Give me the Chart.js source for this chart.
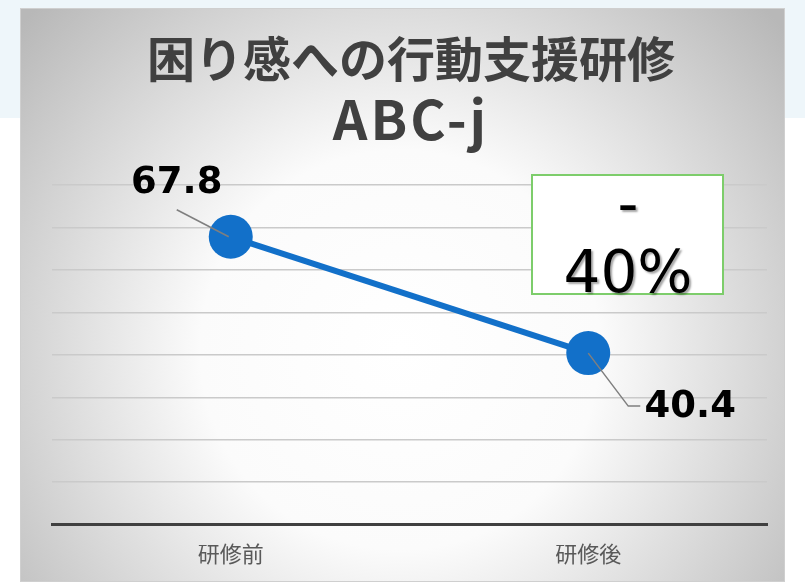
<!DOCTYPE html>
<html lang="ja">
<head>
<meta charset="utf-8">
<script src="https://cdn.jsdelivr.net/npm/chart.js@4.4.1/dist/chart.umd.min.js"></script>
<style>
  html, body { margin: 0; padding: 0; }
  body { width: 805px; height: 585px; position: relative; overflow: hidden;
         background: linear-gradient(#eef6fa 0, #eef6fa 118px, #ffffff 118px); }
  #wrap { position: absolute; left: 0; top: 0; width: 805px; height: 585px; }
</style>
</head>
<body>
<div id="wrap"><canvas id="c" width="805" height="585"></canvas></div>
<script>
// Survey scores before / after the training
const categories = ['研修前', '研修後'];
const scores = [67.8, 40.4];
const titleLines = ['困り感への行動支援研修', 'ABC-j'];
const yMin = 0, yMax = 80, yStep = 10;

// percentage change shown in the callout box
const change = Math.round((scores[1] - scores[0]) / scores[0] * 100);
const changeText = ['-', Math.abs(change) + '%'];

const panel = { x: 20, y: 8, w: 765, h: 574 };

const panelBackground = {
  id: 'panelBackground',
  beforeDraw(chart) {
    const ctx = chart.ctx;
    ctx.save();
    const g = ctx.createRadialGradient(400, 350, 0, 400, 350, 500);
    g.addColorStop(0, '#ffffff');
    g.addColorStop(0.4, '#fbfbfb');
    g.addColorStop(1, '#b8b8b8');
    ctx.fillStyle = g;
    ctx.fillRect(panel.x, panel.y, panel.w, panel.h);
    ctx.strokeStyle = '#cfcfcf';
    ctx.lineWidth = 1;
    ctx.strokeRect(panel.x + 0.5, panel.y + 0.5, panel.w - 1, panel.h - 1);
    // title
    ctx.fillStyle = '#404040';
    ctx.textAlign = 'center';
    ctx.textBaseline = 'middle';
    ctx.font = 'bold 48px "Noto Sans CJK JP"';
    ctx.fillText(titleLines[0], 411, 59);
    ctx.textBaseline = 'alphabetic';
    ctx.font = 'bold 54px "Noto Sans CJK JP"';
    ctx.letterSpacing = '3px';
    ctx.fillText(titleLines[1], 411, 140);
    ctx.restore();
  }
};

const valueLabels = {
  id: 'valueLabels',
  afterDatasetsDraw(chart) {
    const ctx = chart.ctx;
    const pts = chart.getDatasetMeta(0).data;
    ctx.save();
    // leader lines
    ctx.strokeStyle = '#7f7f7f';
    ctx.lineWidth = 1.5;
    ctx.beginPath();
    ctx.moveTo(pts[0].x - 54, pts[0].y - 27);
    ctx.lineTo(pts[0].x - 2, pts[0].y);
    ctx.stroke();
    ctx.beginPath();
    ctx.moveTo(pts[1].x, pts[1].y);
    ctx.lineTo(pts[1].x + 40, pts[1].y + 53);
    ctx.lineTo(pts[1].x + 52, pts[1].y + 53);
    ctx.stroke();
    // values
    ctx.fillStyle = '#000000';
    ctx.textAlign = 'center';
    ctx.textBaseline = 'middle';
    ctx.font = 'bold 37px "DejaVu Sans"';
    ctx.fillText(scores[0].toFixed(1), pts[0].x - 54, pts[0].y - 53);
    ctx.fillText(scores[1].toFixed(1), pts[1].x + 102, pts[1].y + 54);

    // callout box with the percentage change
    const bx = 532, by = 175, bw = 191, bh = 119;
    ctx.fillStyle = '#ffffff';
    ctx.fillRect(bx, by, bw, bh);
    ctx.strokeStyle = '#7dcd6b';
    ctx.lineWidth = 2;
    ctx.strokeRect(bx, by, bw, bh);
    ctx.shadowColor = 'rgba(0,0,0,0.35)';
    ctx.shadowOffsetX = 2;
    ctx.shadowOffsetY = 2;
    ctx.shadowBlur = 2;
    ctx.fillStyle = '#000000';
    ctx.textBaseline = 'alphabetic';
    ctx.font = '58px "DejaVu Sans"';
    ctx.fillText(changeText[0], 628, 224);
    ctx.fillText(changeText[1], 628, 292);
    ctx.restore();
  }
};

new Chart(document.getElementById('c'), {
  type: 'line',
  data: {
    labels: categories,
    datasets: [{
      data: scores,
      borderColor: '#1270c9',
      backgroundColor: '#1270c9',
      borderWidth: 6,
      pointRadius: 22,
      pointBackgroundColor: '#1270c9',
      pointBorderColor: '#1270c9',
      pointBorderWidth: 0,
      tension: 0,
      clip: false
    }]
  },
  options: {
    responsive: false,
    animation: false,
    events: [],
    layout: { padding: { left: 52, right: 38, top: 185, bottom: 2 } },
    plugins: { legend: { display: false }, title: { display: false }, tooltip: { enabled: false } },
    scales: {
      x: {
        offset: true,
        grid: { display: false, drawTicks: false },
        border: { display: true, color: '#404040', width: 3 },
        ticks: { color: '#595959', padding: 16, font: { family: '"Noto Sans CJK JP"', size: 22 } }
      },
      y: {
        min: yMin, max: yMax,
        ticks: { display: false, stepSize: yStep },
        grid: { color: '#cacaca', lineWidth: 1.5, drawTicks: false },
        border: { display: false }
      }
    }
  },
  plugins: [panelBackground, valueLabels]
});
</script>
</body>
</html>
